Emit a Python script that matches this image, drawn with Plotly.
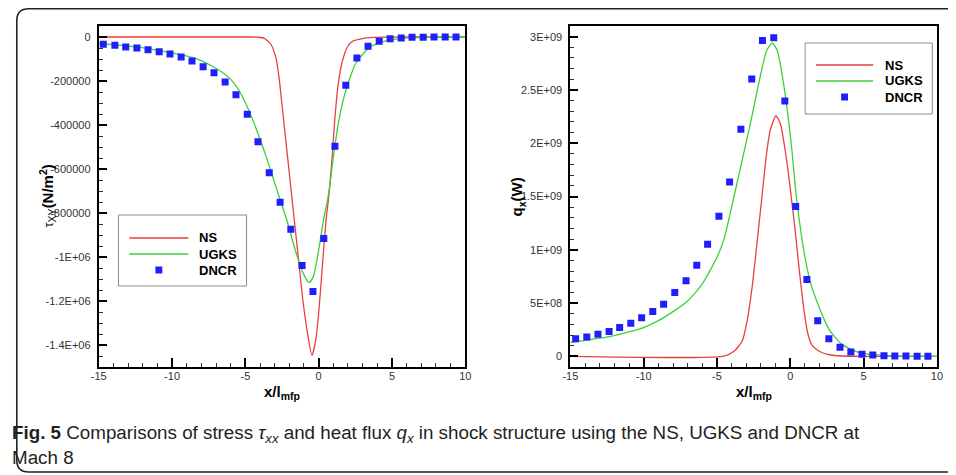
import plotly.graph_objects as go

# page is rendered with the browser's default 8px body margin; figure is sized to fill the rest
OFF = 8
W, H = 956 - OFF, 475 - OFF

# ---------------- data: left panel (stress) ----------------
ns_tau_x = [-15, -4.6, -4.16, -3.71, -3.26, -2.92, -2.70, -2.48, -2.25, -2.03, -1.81, -1.58, -1.36, -1.07,
            -0.75, -0.46, -0.17, 0.05, 0.28, 0.50, 0.73, 0.95, 1.11, 1.33, 1.62, 2.0, 2.34, 3.0, 3.46, 4.5, 6, 10]
ns_tau_y = [0, 0, -1000, -6000, -33000, -94000, -185000, -322000, -465000, -602000, -739000, -883000,
            -1020000, -1200000, -1351000, -1447000, -1366000, -1215000, -1018000, -836000, -700000, -518000,
            -366000, -215000, -109000, -41000, -18000, -7000, -3000, -1000, 0, 0]

ugks_tau_x = [-15, -13.79, -11.77, -9.76, -8.41, -7.29, -6.40, -5.73, -5.05, -4.38, -3.71, -3.26, -2.70, -2.14,
              -1.58, -1.02, -0.64, -0.35, -0.01, 0.32, 0.66, 1.0, 1.33, 1.78, 2.22, 2.56, 3.46, 4.58, 5.7, 7.5, 10]
ugks_tau_y = [-28600, -36400, -51400, -75500, -97000, -131800, -169500, -213000, -291000, -397000, -518000,
              -609000, -725000, -840000, -973000, -1079000, -1116000, -1086000, -973000, -836000, -720000,
              -548000, -397000, -260000, -169500, -116000, -48000, -18000, -6000, -1500, 0]

dncr_x = [-14.69, -13.90, -13.16, -12.40, -11.64, -10.88, -10.14, -9.38, -8.64, -7.88, -7.14, -6.38, -5.64,
          -4.87, -4.14, -3.37, -2.63, -1.90, -1.13, -0.39, 0.35, 1.11, 1.85, 2.61, 3.37, 4.13, 4.87, 5.63,
          6.37, 7.13, 7.87, 8.63, 9.37]
dncr_tau_y = [-33300, -37900, -45500, -50000, -57600, -66700, -77300, -90900, -109000, -134800, -162100,
              -204500, -262100, -351500, -475800, -616700, -751500, -874200, -1039100, -1157300, -916000,
              -496800, -219700, -95500, -42400, -19700, -7600, -4500, -1500, -1500, 0, 0, 0]

# ---------------- data: right panel (heat flux) ----------------
ns_q_x = [-15, -4.52, -3.84, -3.29, -2.95, -2.61, -2.28, -1.94, -1.65, -1.38, -0.98, -0.67, -0.38, -0.15,
          0.07, 0.30, 0.52, 0.75, 0.97, 1.2, 1.5, 2.0, 2.65, 3.55, 5, 10]
ns_q_y = [0, 0.003e9, 0.047e9, 0.141e9, 0.329e9, 0.643e9, 1.051e9, 1.49e9, 1.866e9, 2.117e9, 2.258e9,
          2.18e9, 1.96e9, 1.74e9, 1.49e9, 1.22e9, 0.93e9, 0.64e9, 0.40e9, 0.21e9, 0.10e9, 0.045e9,
          0.015e9, 0.003e9, 0, 0]

ugks_q_x = [-15, -14, -13, -12, -11, -10, -9, -8, -7, -6, -5, -4.52, -3.84, -3.40, -2.73, -2.06, -1.61,
            -1.22, -0.89, -0.60, -0.26, 0.07, 0.41, 0.75, 1.1, 1.4, 1.97, 2.65, 3.55, 4.66, 6.9, 10]
ugks_q_y = [0.13e9, 0.15e9, 0.17e9, 0.195e9, 0.23e9, 0.27e9, 0.335e9, 0.42e9, 0.52e9, 0.68e9, 0.93e9,
            1.10e9, 1.50e9, 1.77e9, 2.18e9, 2.62e9, 2.87e9, 2.94e9, 2.87e9, 2.68e9, 2.37e9, 1.99e9, 1.50e9,
            1.145e9, 0.86e9, 0.68e9, 0.46e9, 0.25e9, 0.11e9, 0.038e9, 0.005e9, 0]

dncr_q_x = [-14.64, -13.88, -13.12, -12.36, -11.64, -10.88, -10.14, -9.38, -8.64, -7.88, -7.11, -6.38,
            -5.64, -4.87, -4.14, -3.37, -2.63, -1.90, -1.13, -0.37, 0.37, 1.13, 1.87, 2.63, 3.39, 4.13, 4.89,
            5.63, 6.39, 7.13, 7.89, 8.65, 9.39]
dncr_q_y = [0.164e9, 0.182e9, 0.207e9, 0.232e9, 0.270e9, 0.311e9, 0.361e9, 0.420e9, 0.489e9, 0.599e9,
            0.709e9, 0.856e9, 1.051e9, 1.314e9, 1.637e9, 2.130e9, 2.603e9, 2.963e9, 2.989e9, 2.396e9,
            1.405e9, 0.722e9, 0.333e9, 0.166e9, 0.085e9, 0.041e9, 0.019e9, 0.013e9, 0.006e9, 0.003e9,
            0.003e9, 0.002e9, 0.001e9]

# ---------------- tick labels ----------------
x_ticks = [-15, -10, -5, 0, 5, 10]
x_ticktext = ["-15", "-10", "-5", "0", "5", "10"]
tau_ticks = [0, -200000, -400000, -600000, -800000, -1000000, -1200000, -1400000]
tau_ticktext = ["0", "-200000", "-400000", "-600000", "-800000", "-1E+06", "-1.2E+06", "-1.4E+06"]
q_ticks = [0, 0.5e9, 1e9, 1.5e9, 2e9, 2.5e9, 3e9]
q_ticktext = ["0", "5E+08", "1E+09", "1.5E+09", "2E+09", "2.5E+09", "3E+09"]

series_names = ["NS", "UGKS", "DNCR"]

RED = "#e8403e"
GREEN = "#3ccf3c"
BLUE = "#1e1eff"
FONT = "Liberation Sans, Arial, sans-serif"


def px2x(p):
    return (p - OFF) / W


def px2y(p):
    return 1 - (p - OFF) / H


fig = go.Figure()

line_kw = dict(width=1.3, shape="spline", smoothing=0.6)
fig.add_trace(go.Scatter(x=ns_tau_x, y=ns_tau_y, mode="lines", line=dict(color=RED, **line_kw),
                         xaxis="x", yaxis="y", showlegend=False))
fig.add_trace(go.Scatter(x=ugks_tau_x, y=ugks_tau_y, mode="lines", line=dict(color=GREEN, **line_kw),
                         xaxis="x", yaxis="y", showlegend=False))
fig.add_trace(go.Scatter(x=dncr_x, y=dncr_tau_y, mode="markers", marker=dict(symbol="square", size=7, color=BLUE),
                         xaxis="x", yaxis="y", showlegend=False))

fig.add_trace(go.Scatter(x=ns_q_x, y=ns_q_y, mode="lines", line=dict(color=RED, **line_kw),
                         xaxis="x2", yaxis="y2", showlegend=False))
fig.add_trace(go.Scatter(x=ugks_q_x, y=ugks_q_y, mode="lines", line=dict(color=GREEN, **line_kw),
                         xaxis="x2", yaxis="y2", showlegend=False))
fig.add_trace(go.Scatter(x=dncr_q_x, y=dncr_q_y, mode="markers", marker=dict(symbol="square", size=7, color=BLUE),
                         xaxis="x2", yaxis="y2", showlegend=False))

tickfont = dict(family=FONT, size=11, color="#333333")


def xaxis(domain, anchor):
    return dict(domain=domain, anchor=anchor, range=[-15, 10], tickmode="array", tickvals=x_ticks,
                ticktext=x_ticktext, ticks="inside", ticklen=9, tickwidth=2, tickcolor="black",
                minor=dict(ticks="inside", ticklen=4, tickwidth=1, tickcolor="#333", dtick=1, tick0=0),
                showline=True, linecolor="black", linewidth=2, mirror=True, showgrid=False, zeroline=False,
                tickfont=tickfont, ticklabelstandoff=-2)


def yaxis(domain, anchor, rng, vals, text, mdt):
    return dict(domain=domain, anchor=anchor, range=rng, tickmode="array", tickvals=vals, ticktext=text,
                ticks="inside", ticklen=8, tickwidth=2, tickcolor="black",
                minor=dict(ticks="inside", ticklen=4, tickwidth=1, tickcolor="#333", dtick=mdt, tick0=0),
                showline=True, linecolor="black", linewidth=2, mirror=True, showgrid=False, zeroline=False,
                tickfont=tickfont, ticklabelstandoff=4)


ydom = [px2y(367), px2y(26)]
fig.update_layout(
    width=W, height=H, margin=dict(l=0, r=0, t=0, b=0),
    paper_bgcolor="white", plot_bgcolor="white",
    xaxis=xaxis([px2x(92), px2x(464)], "y"),
    yaxis=yaxis(ydom, "x", [-1.5e6, 50000], tau_ticks, tau_ticktext, 50000),
    xaxis2=xaxis([px2x(570.7), px2x(942.7)], "y2"),
    yaxis2=yaxis(ydom, "x2", [-1e8, 3.1e9], q_ticks, q_ticktext, 1e8),
    showlegend=False,
)

shapes = []
annotations = []

# outer rounded frame
x0, yt, yb = px2x(8.8), px2y(8.8), px2y(472)
rx, ry = 12 / W, 12 / H
shapes.append(dict(type="path", xref="paper", yref="paper",
                   path=f"M 1.05,{yt} L {x0 + rx},{yt} Q {x0},{yt} {x0},{yt - ry} L {x0},{yb + ry} "
                        f"Q {x0},{yb} {x0 + rx},{yb} L 1.05,{yb}",
                   line=dict(color="#222222", width=1.6)))


def legend(bx0, by0, bx1, by1, lx0, lx1, rows, tx):
    shapes.append(dict(type="rect", xref="paper", yref="paper", x0=px2x(bx0), x1=px2x(bx1),
                       y0=px2y(by1), y1=px2y(by0), line=dict(color="#8c8c8c", width=1), fillcolor="white"))
    colors = [RED, GREEN]
    for i, name in enumerate(series_names):
        yy = rows[i]
        if i < 2:
            shapes.append(dict(type="line", xref="paper", yref="paper", x0=px2x(lx0), x1=px2x(lx1),
                               y0=px2y(yy), y1=px2y(yy), line=dict(color=colors[i], width=1.5)))
        else:
            cx = (lx0 + lx1) / 2
            shapes.append(dict(type="rect", xref="paper", yref="paper", x0=px2x(cx - 3.5), x1=px2x(cx + 3.5),
                               y0=px2y(yy + 3.5), y1=px2y(yy - 3.5), line=dict(width=0), fillcolor=BLUE))
        annotations.append(dict(xref="paper", yref="paper", x=px2x(tx), y=px2y(yy), xanchor="left",
                                yanchor="middle", showarrow=False, text=f"<b>{name}</b>",
                                font=dict(family=FONT, size=13, color="black")))


legend(112, 215, 242, 286, 123, 183, [238, 254, 270], 192)
legend(809, 43, 938, 114, 820, 878, [65, 81, 97], 888)

title_font = dict(family=FONT, size=15, color="black")
annotations += [
    dict(xref="paper", yref="paper", x=px2x(40), y=px2y(196), textangle=-90, showarrow=False,
         xanchor="center", yanchor="middle",
         text="<span style='font-size:13px'>τ</span><sub>XY</sub><b>(N/m<sup>2</sup>)</b>", font=title_font),
    dict(xref="paper", yref="paper", x=px2x(518), y=px2y(197), textangle=-90, showarrow=False,
         xanchor="center", yanchor="middle",
         text="<b>q<sub>x</sub>(W)</b>", font=title_font),
    dict(xref="paper", yref="paper", x=px2x(278), y=px2y(392), showarrow=False,
         xanchor="center", yanchor="middle", text="<b>x/l<sub>mfp</sub></b>", font=title_font),
    dict(xref="paper", yref="paper", x=px2x(757), y=px2y(392), showarrow=False,
         xanchor="center", yanchor="middle", text="<b>x/l<sub>mfp</sub></b>", font=title_font),
]

cap_font = dict(family="Liberation Sans Narrow, Arial Narrow, Liberation Sans, sans-serif", size=18.8,
                color="#231f20")
annotations += [
    dict(xref="paper", yref="paper", x=px2x(8.1), y=px2y(434), xanchor="left", yanchor="middle",
         showarrow=False, font=cap_font, xshift=-6,
         text="<b>Fig. 5</b> Comparisons of stress <i>τ<sub>xx</sub></i> and heat flux <i>q<sub>x</sub></i> "
              "in shock structure using the NS, UGKS and DNCR at"),
    dict(xref="paper", yref="paper", x=px2x(8.1), y=px2y(457), xanchor="left", yanchor="middle",
         showarrow=False, font=cap_font, xshift=-6, text="Mach 8"),
]

fig.update_layout(shapes=shapes, annotations=annotations)
fig.write_html("out.html")
